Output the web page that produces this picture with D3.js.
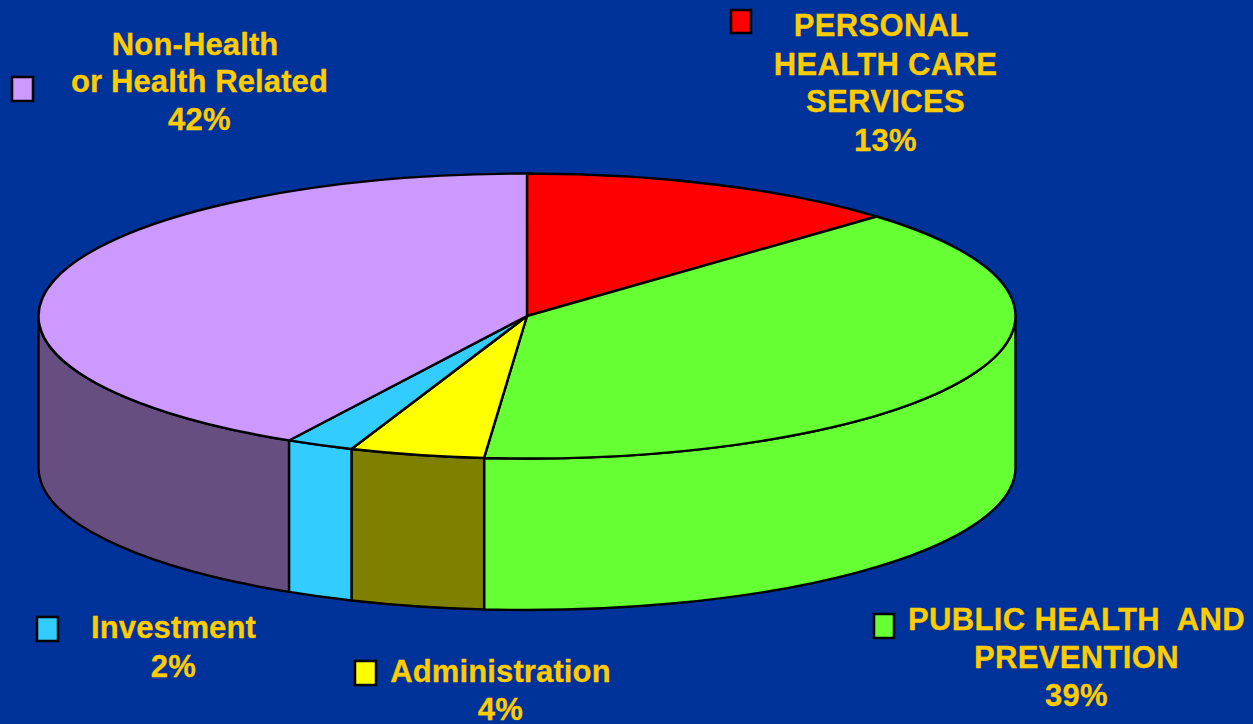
<!DOCTYPE html>
<html><head><meta charset="utf-8">
<script src="https://cdn.jsdelivr.net/npm/d3@7/dist/d3.min.js"></script>
<style>html,body{margin:0;padding:0;background:#003399;overflow:hidden}svg{display:block}
text{font-family:"Liberation Sans",Arial,sans-serif;font-weight:700;fill:#FFCC00;text-anchor:middle;white-space:pre;stroke:#FFCC00;stroke-width:.3px;letter-spacing:.12px}
text.caps{letter-spacing:.35px}</style>
</head><body><svg id="c" width="1253" height="724"></svg>
<script>
// Data
const categories = ["Personal health care services","Public health and prevention","Administration","Investment","Non-health or health related"];
const values = [12.7, 38.7, 4.45, 2.25, 41.9];
const labelLines = [
  ["PERSONAL ","HEALTH CARE","SERVICES","13%"],
  ["PUBLIC HEALTH  AND","PREVENTION","39%"],
  ["Administration","4%"],
  ["Investment","2%"],
  ["Non-Health ","or Health Related","42%"]
];
// Styles and layout
const topColors  = ["#FF0000","#66FF33","#FFFF00","#33CCFF","#CC99FF"];
const wallColors = ["#800000","#66FF33","#808000","#33CCFF","#664F80"];
const labelAt = [
  {x:885.5, ys:[36,75,112,151], key:[731,10,20,23]},
  {x:1076.5,ys:[630,668,706],   key:[874,614,20,24]},
  {x:500.5, ys:[682,720],       key:[355,661,21,24]},
  {x:173.5, ys:[638,677],       key:[37,617,21,24]},
  {x:199.5, ys:[55,92,130],     key:[12,77,21,24]}
];
const cx=527, cy=316, rx=488.5, ry=142.5, depth=151.5;

const svg=d3.select("#c");
const arcs=d3.pie().sort(null).value(d=>d)(values);
const px=a=>cx+rx*Math.sin(a), py=a=>cy-ry*Math.cos(a);

// Side walls: only the front half (angles PI/2 .. 3PI/2) is visible
const wallPath=(a0,a1)=>
  `M${px(a0)},${py(a0)}L${px(a0)},${py(a0)+depth}A${rx},${ry} 0 0 1 ${px(a1)},${py(a1)+depth}L${px(a1)},${py(a1)}A${rx},${ry} 0 0 0 ${px(a0)},${py(a0)}Z`;
const walls=svg.append("g");
arcs.forEach((d,i)=>{
  const a0=Math.max(d.startAngle,Math.PI/2), a1=Math.min(d.endAngle,3*Math.PI/2);
  if(a1<=a0) return;
  walls.append("path").attr("d",wallPath(a0,a1)).attr("fill",wallColors[i])
    .attr("stroke","#000").attr("stroke-width",2.4).attr("stroke-linejoin","round");
});

// Top face: d3.arc flattened into the ellipse
const arc=d3.arc().innerRadius(0).outerRadius(rx);
svg.append("g").attr("transform",`translate(${cx},${cy}) scale(1,${ry/rx})`)
  .selectAll("path").data(arcs).join("path")
  .attr("d",arc).attr("fill",(d,i)=>topColors[i])
  .attr("stroke","#000").attr("stroke-width",2.4).attr("stroke-linejoin","round")
  .attr("vector-effect","non-scaling-stroke");

// Labels and keys
labelLines.forEach((lines,i)=>{
  const L=labelAt[i];
  lines.forEach((t,j)=>svg.append("text").attr("x",L.x).attr("y",L.ys[j])
    .attr("class",t===t.toUpperCase()?"caps":null)
    .attr("font-size",31).text(t));
  svg.append("rect").attr("x",L.key[0]).attr("y",L.key[1]).attr("width",L.key[2]).attr("height",L.key[3])
    .attr("fill",topColors[i]).attr("stroke","#000").attr("stroke-width",2.5);
});
</script></body></html>
